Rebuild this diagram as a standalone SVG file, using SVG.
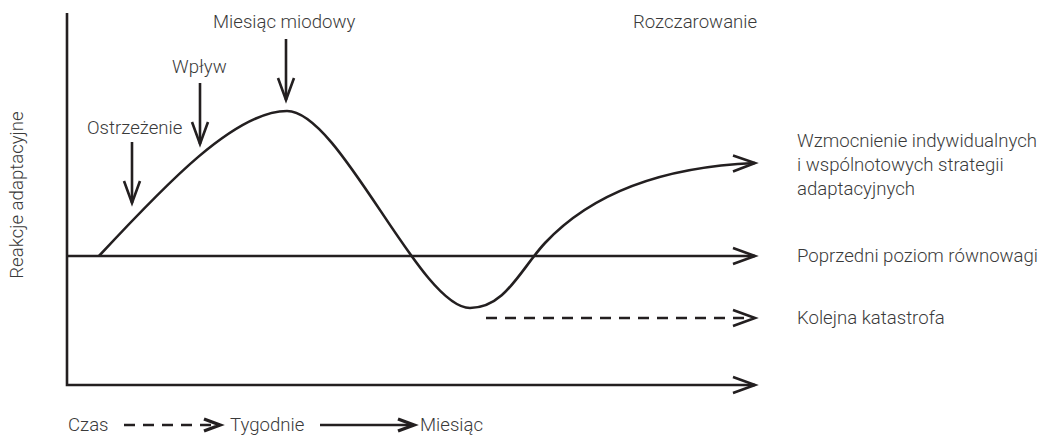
<svg xmlns="http://www.w3.org/2000/svg" width="1050" height="436" viewBox="0 0 1050 436">
<style>
.ln{fill:none;stroke:#231f20;stroke-width:2.6;stroke-linecap:butt;stroke-linejoin:miter}
.hd{fill:none;stroke:#231f20;stroke-width:2.6;stroke-linejoin:miter;stroke-linecap:butt}
.hl{fill:none;stroke:#231f20;stroke-width:3.4;stroke-linejoin:miter}
.ds{stroke-dasharray:11 8}
.t{font-family:Roboto,"Liberation Sans",sans-serif;font-weight:300;font-size:18.6px;fill:#3a3a3a}
</style>
<rect width="1050" height="436" fill="#ffffff"/>
<g id="axes">
<path class="ln" d="M67,13 V385 H755"/>
<path class="hd" d="M733,377 L755,385 L733,393"/>
</g>
<g id="connectors">
<path id="curve" class="ln" d="M99,256 C165,185 235,111 287,111 C340,111 420,308 470,308 C505,308 520,270 545,243 C590,195 660,167 755,163"/>
<path class="hd" d="M733,155.5 L755,163 L733,171.5"/>
<path class="ln" d="M67,256 H755"/>
<path class="hd" d="M733,248 L755,256 L733,264"/>
<path class="ln ds" d="M486,318 H753"/>
<path class="hd" d="M733,310 L755,318 L733,326"/>
<path class="ln" d="M132,142 V203"/>
<path class="hd" d="M124,181 L132,203 L140,181"/>
<path class="ln" d="M200,83 V144"/>
<path class="hd" d="M192,122 L200,144 L208,122"/>
<path class="ln" d="M286,39 V100"/>
<path class="hd" d="M278,78 L286,100 L294,78"/>
</g>
<g id="label-miesiac-miodowy"><text class="t" x="213" y="28">Miesiąc miodowy</text></g>
<g id="label-wplyw"><text class="t" x="172" y="73">Wpływ</text></g>
<g id="label-ostrzezenie"><text class="t" x="87" y="134">Ostrzeżenie</text></g>
<g id="label-rozczarowanie"><text class="t" x="633" y="28">Rozczarowanie</text></g>
<g id="label-wzmocnienie"><text class="t" x="797" y="147">Wzmocnienie indywidualnych<tspan x="797" y="171">i wspólnotowych strategii</tspan><tspan x="797" y="195">adaptacyjnych</tspan></text></g>
<g id="label-poprzedni"><text class="t" x="797" y="262">Poprzedni poziom równowagi</text></g>
<g id="label-kolejna"><text class="t" x="797" y="324">Kolejna katastrofa</text></g>
<g id="label-reakcje"><text class="t" text-anchor="middle" transform="translate(23,195) rotate(-90)">Reakcje adaptacyjne</text></g>
<g id="legend">
<text class="t" x="68" y="431">Czas</text>
<path class="ln ds" d="M124,425 H212"/>
<path class="hl" d="M204,419 L220,425 L204,431"/>
<text class="t" x="230" y="431">Tygodnie</text>
<path class="ln" d="M320,425 H412"/>
<path class="hl" d="M398,419 L414,425 L398,431"/>
<text class="t" x="420" y="431">Miesiąc</text>
</g>
</svg>
